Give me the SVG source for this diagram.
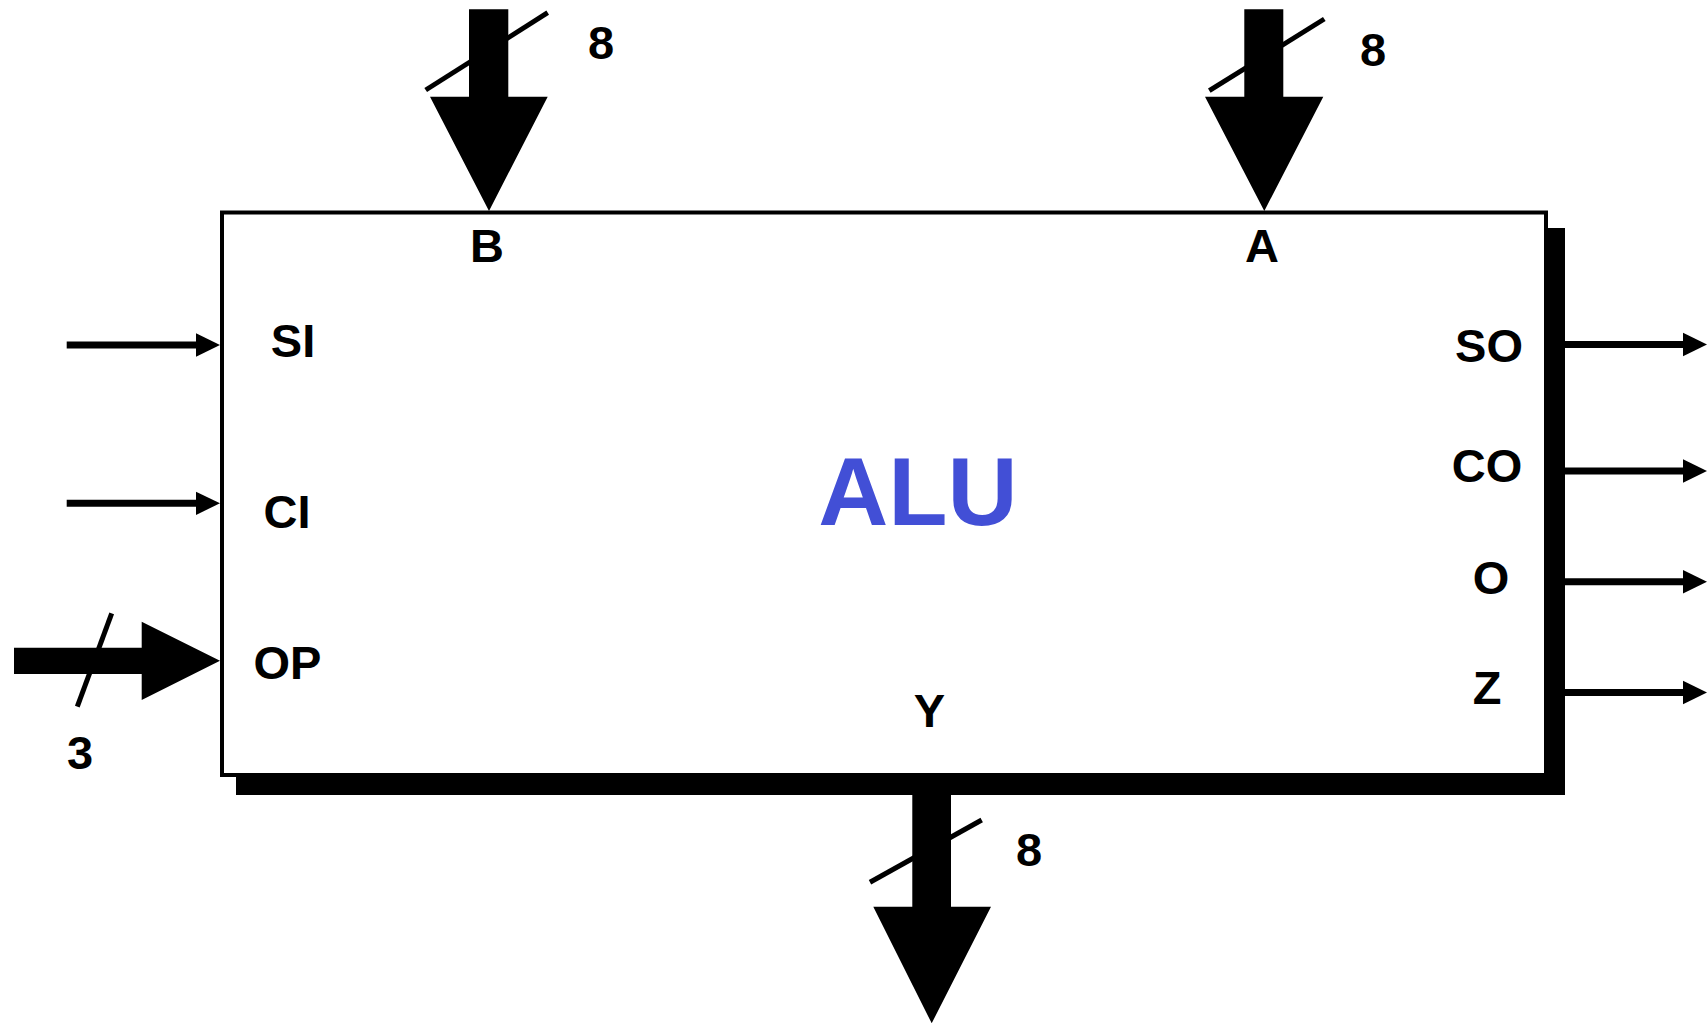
<svg xmlns="http://www.w3.org/2000/svg" width="1708" height="1024" viewBox="0 0 1708 1024">
<style>
.lbl{font-family:"Liberation Sans",Arial,sans-serif;font-weight:bold;font-size:47px;fill:#000;text-anchor:middle}
.num{font-family:"Liberation Sans",Arial,sans-serif;font-weight:bold;font-size:47px;fill:#000;text-anchor:middle}
.title{font-family:"Liberation Sans",Arial,sans-serif;font-weight:bold;font-size:97px;fill:#424fd6;text-anchor:middle}
.wire{stroke:#000;stroke-width:7;fill:none}
.slash{stroke:#000;stroke-width:5;fill:none}
.head{fill:#000}
</style>
<rect width="1708" height="1024" fill="#fff"/>
<g id="alu">
<rect x="236" y="228" width="1329" height="567" fill="#000"/>
<rect x="222" y="212.5" width="1324" height="562.5" fill="#fff" stroke="#000" stroke-width="4"/>
<text class="title" x="918" y="525">ALU</text>
<text class="lbl" x="487" y="261.5">B</text>
<text class="lbl" x="1262" y="262">A</text>
<text class="lbl" x="293" y="356.5">SI</text>
<text class="lbl" x="287" y="527.5">CI</text>
<text class="lbl" x="287.5" y="679">OP</text>
<text class="lbl" x="1489" y="362">SO</text>
<text class="lbl" x="1487" y="482">CO</text>
<text class="lbl" x="1491" y="594">O</text>
<text class="lbl" x="1487" y="704">Z</text>
<text class="lbl" x="929.5" y="726.5">Y</text>
</g>
<g id="connectors">
<g id="bus-b">
<polygon class="head" points="469,9.3 508.3,9.3 508.3,96.7 547.7,96.7 489,211 430,96.7 469,96.7"/>
<line class="slash" x1="425.7" y1="90" x2="547.7" y2="12.7"/>
<text class="num" x="601" y="58.5">8</text>
</g>
<g id="bus-a">
<polygon class="head" points="1244.3,9.3 1283.3,9.3 1283.3,96.7 1323.3,96.7 1264.3,211 1205,96.7 1244.3,96.7"/>
<line class="slash" x1="1209.3" y1="90.7" x2="1324.3" y2="19"/>
<text class="num" x="1373" y="65.5">8</text>
</g>
<g id="bus-y">
<polygon class="head" points="912.3,795 951,795 951,906.7 991,906.7 931.7,1023.3 873.3,906.7 912.3,906.7"/>
<line class="slash" x1="870" y1="882.3" x2="981.7" y2="820"/>
<text class="num" x="1029" y="865.5">8</text>
</g>
<g id="bus-op">
<polygon class="head" points="14,647.7 141.7,647.7 141.7,621.7 220,660.8 141.7,700 141.7,674 14,674"/>
<line class="slash" x1="111.7" y1="613.3" x2="77.3" y2="706.7"/>
<text class="num" x="80" y="768.5">3</text>
</g>
<g id="in-si">
<line class="wire" x1="66.7" y1="345" x2="198" y2="345"/>
<polygon class="head" points="196,333.3 220,345 196,356.7"/>
</g>
<g id="in-ci">
<line class="wire" x1="66.7" y1="503.3" x2="198" y2="503.3"/>
<polygon class="head" points="196,491.7 220,503.3 196,514.9"/>
</g>
<g id="out-so">
<line class="wire" x1="1565" y1="344.5" x2="1685" y2="344.5"/>
<polygon class="head" points="1683,332.8 1707,344.5 1683,356.2"/>
</g>
<g id="out-co">
<line class="wire" x1="1565" y1="471" x2="1685" y2="471"/>
<polygon class="head" points="1683,459.3 1707,471 1683,482.7"/>
</g>
<g id="out-o">
<line class="wire" x1="1565" y1="581.7" x2="1685" y2="581.7"/>
<polygon class="head" points="1683,570 1707,581.7 1683,593.4"/>
</g>
<g id="out-z">
<line class="wire" x1="1565" y1="692.5" x2="1685" y2="692.5"/>
<polygon class="head" points="1683,680.8 1707,692.5 1683,704.2"/>
</g>
</g>
</svg>
